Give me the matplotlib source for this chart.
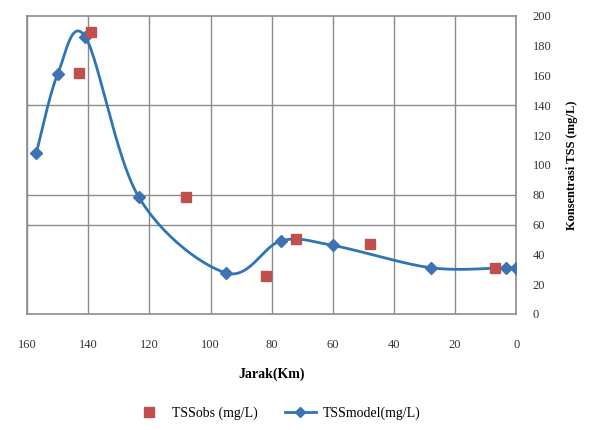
import numpy as np
import matplotlib
matplotlib.use('Agg')
from matplotlib import pyplot as plt
from matplotlib.lines import Line2D

# distance (km) and TSS (mg/L)
x_model = [157, 150, 141, 123.5, 95, 77, 60, 28, 3.5, 0]
y_model = [108, 161, 186, 78.5, 27.5, 49, 46, 31, 31, 31]
x_obs = [143, 139, 108, 82, 72, 48, 7]
y_obs = [162, 189, 78.5, 25.5, 50, 47, 31]
x_ticks = [160, 140, 120, 100, 80, 60, 40, 20, 0]
y_ticks = [0, 20, 40, 60, 80, 100, 120, 140, 160, 180, 200]
grid_y = [60, 80, 140]

plt.rcParams['font.family'] = ['Liberation Serif', 'DejaVu Serif']


def smooth(xs, ys, sx=3.06, sy=1.49, n=30):
    # catmull-rom style smoothing (like excel smoothed line), in pixel space
    P = np.column_stack([np.array(xs) * sx, np.array(ys) * sy])
    out = []
    for i in range(len(P) - 1):
        p0 = P[i - 1] if i > 0 else P[i]
        p1, p2 = P[i], P[i + 1]
        p3 = P[i + 2] if i + 2 < len(P) else P[i + 1]
        c1 = p1 + (p2 - p0) / 6
        c2 = p2 - (p3 - p1) / 6
        t = np.linspace(0, 1, n)[:, None]
        seg = (1 - t) ** 3 * p1 + 3 * (1 - t) ** 2 * t * c1 + 3 * (1 - t) * t ** 2 * c2 + t ** 3 * p2
        out.append(seg)
    out = np.vstack(out)
    return out[:, 0] / sx, out[:, 1] / sy


fig = plt.figure(figsize=(5.9, 4.3), dpi=100)
ax = fig.add_axes([0.046, 0.270, 0.829, 0.693])

sx, sy = smooth(x_model, y_model)
ax.plot(sx, sy, color='#2E75B6', lw=2, zorder=3)
ax.plot(x_model, y_model, ls='none', marker='D', ms=6, color='#3F72B5', zorder=4)
ax.plot(x_obs, y_obs, ls='none', marker='s', ms=7, color='#C0504D', zorder=5)

ax.set_xlim(160, 0)
ax.set_ylim(0, 200)
ax.set_xticks(x_ticks)
ax.set_yticks(y_ticks)
ax.yaxis.tick_right()
ax.yaxis.set_label_position('right')
ax.tick_params(axis='both', length=0, labelsize=9, colors='#333333')
ax.tick_params(axis='x', pad=18)
ax.tick_params(axis='y', pad=12)
for v in x_ticks:
    ax.axvline(v, color='#8c8c8c', lw=1, zorder=1)
for v in grid_y:
    ax.axhline(v, color='#8c8c8c', lw=1, zorder=1)
for s in ax.spines.values():
    s.set_color('#8c8c8c')
    s.set_linewidth(1.2)

ax.set_xlabel('Jarak(Km)', fontsize=10, fontweight='bold', labelpad=12)
ax.set_ylabel('Konsentrasi TSS (mg/L)', fontsize=9, fontweight='bold', labelpad=10, rotation=90)

handles = [Line2D([], [], ls='none', marker='s', ms=7, color='#C0504D'),
           Line2D([], [], color='#2E75B6', lw=2, marker='D', ms=5, markerfacecolor='#3F72B5')]
fig.legend(handles, ['TSSobs (mg/L)', 'TSSmodel(mg/L)'], loc='center', bbox_to_anchor=(0.47, 0.04),
           ncol=2, frameon=False, fontsize=10, handlelength=2.2, handletextpad=0.5, columnspacing=2)

fig.savefig('out.png', dpi=100)
